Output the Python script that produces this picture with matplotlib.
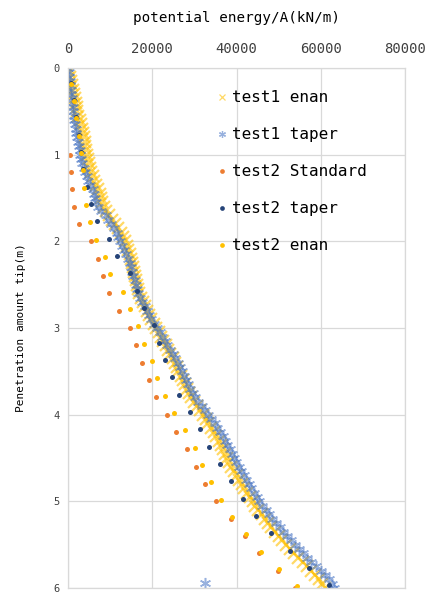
import numpy as np
import matplotlib.pyplot as plt

# test1 data: dense records, depth every 0.05 m
t1_depth = np.round(np.arange(0, 6.001, 0.05), 2)
t1_enan = [0, 200, 400, 600, 800, 1050, 1300, 1550, 1800, 2000,
           2200, 2450, 2700, 2950, 3200, 3450, 3700, 3900, 4100, 4300,
           4500, 4750, 5000, 5250, 5500, 5850, 6200, 6650, 7100, 7450,
           7800, 8100, 8500, 9100, 9800, 10500, 11200, 11900, 12500, 13000,
           13400, 13900, 14300, 14600, 14900, 15150, 15400, 15600, 15800, 16050,
           16300, 16600, 16900, 17300, 17700, 18200, 18700, 19200, 19700, 20300,
           20900, 21500, 22100, 22650, 23200, 23750, 24300, 24800, 25300, 25750,
           26200, 26700, 27200, 27700, 28200, 28750, 29300, 29950, 30600, 31300,
           32000, 32650, 33300, 33950, 34600, 35200, 35800, 36300, 36800, 37300,
           37800, 38300, 38800, 39400, 40000, 40600, 41200, 41850, 42500, 43150,
           43800, 44500, 45200, 45950, 46700, 47500, 48300, 49150, 50000, 50900,
           51800, 52750, 53700, 54700, 55700, 56750, 57800, 58750, 59700, 60400,
           61000]
t1_taper = [0, 100, 200, 350, 500, 600, 700, 800, 900, 1050,
            1200, 1350, 1500, 1650, 1800, 1950, 2100, 2300, 2500, 2700,
            2900, 3150, 3400, 3750, 4100, 4450, 4800, 5300, 5800, 6050,
            6300, 6650, 7000, 7900, 8900, 9550, 10200, 10850, 11500, 11950,
            12400, 12850, 13300, 13750, 14200, 14600, 15000, 15250, 15500, 15800,
            16100, 16400, 16700, 17150, 17600, 18150, 18700, 19250, 19800, 20450,
            21100, 21750, 22400, 23000, 23600, 24250, 24900, 25450, 26000, 26500,
            27000, 27500, 28000, 28500, 29000, 29600, 30200, 30950, 31700, 32500,
            33300, 34050, 34800, 35450, 36100, 36700, 37300, 37850, 38400, 38900,
            39400, 39950, 40500, 41100, 41700, 42300, 42900, 43500, 44100, 44750,
            45400, 46150, 46900, 47700, 48500, 49400, 50300, 51150, 52000, 52900,
            53800, 54750, 55700, 56750, 57800, 58900, 60000, 61000, 62000, 62600,
            63200]
# one odd record in test1 taper
t1_taper_odd_x = [32500]
t1_taper_odd_d = [5.94]

# test2 data: every 0.2 m
t2_std_depth = [1.0, 1.2, 1.4, 1.6, 1.8, 2.0, 2.2, 2.4, 2.6, 2.8, 3.0, 3.2, 3.4,
                3.6, 3.8, 4.0, 4.2, 4.4, 4.6, 4.8, 5.0, 5.2, 5.4, 5.6, 5.8, 6.0]
t2_std = [400, 700, 1000, 1500, 2500, 5400, 7200, 8200, 9600, 12100, 14600, 16100, 17500,
          19100, 20800, 23500, 25700, 28300, 30300, 32600, 35200, 38700, 42000, 45300, 49800, 54000]

t2_taper_depth = [0.17, 0.37, 0.57, 0.77, 0.97, 1.17, 1.37, 1.57, 1.77, 1.97,
                  2.17, 2.37, 2.57, 2.77, 2.97, 3.17, 3.37, 3.57, 3.77, 3.97,
                  4.17, 4.37, 4.57, 4.77, 4.97, 5.17, 5.37, 5.57, 5.77, 5.97]
t2_taper = [700, 1300, 1800, 2600, 3100, 3600, 4400, 5400, 6800, 9600,
            11600, 14800, 16400, 18000, 20300, 21600, 22900, 24600, 26400, 29000,
            31300, 33500, 36100, 38600, 41500, 44600, 48300, 52700, 57300, 62000]

t2_enan_depth = [0.18, 0.38, 0.58, 0.78, 0.98, 1.18, 1.38, 1.58, 1.78, 1.98,
                 2.18, 2.38, 2.58, 2.78, 2.98, 3.18, 3.38, 3.58, 3.78, 3.98,
                 4.18, 4.38, 4.58, 4.78, 4.98, 5.18, 5.38, 5.58, 5.78, 5.98]
t2_enan = [600, 1300, 1900, 2500, 3000, 3500, 3800, 4200, 5200, 6600,
           8800, 10000, 13100, 14800, 16700, 18100, 19900, 21100, 22900, 25100,
           27700, 30100, 31800, 33900, 36200, 38900, 42200, 45700, 50000, 54300]

plt.rcParams['font.family'] = ['DejaVu Sans Mono', 'DejaVu Sans']

fig = plt.figure(figsize=(4.34, 5.97), dpi=100)
ax = fig.add_axes([0.157, 0.015, 0.776, 0.871])

ax.plot(t1_enan, t1_depth, ls='none', marker='x', ms=8.5, mew=1.6,
        color='#FFC000', alpha=0.6, label='test1 enan')
ax.plot(t1_taper + t1_taper_odd_x, list(t1_depth) + t1_taper_odd_d, ls='none',
        marker=(6, 2, 0), ms=8, mew=1.1, color='#4472C4', alpha=0.55, label='test1 taper')
ax.plot(t2_std, t2_std_depth, ls='none', marker='o', ms=3.6, mew=0,
        color='#ED7D31', label='test2 Standard')
ax.plot(t2_taper, t2_taper_depth, ls='none', marker='o', ms=3.6, mew=0,
        color='#264478', label='test2 taper')
ax.plot(t2_enan, t2_enan_depth, ls='none', marker='o', ms=3.6, mew=0,
        color='#FFC000', label='test2 enan')

ax.set_xlim(0, 80000)
ax.set_ylim(6, 0)
ax.set_xticks([0, 20000, 40000, 60000, 80000])
ax.set_yticks([0, 1, 2, 3, 4, 5, 6])
ax.xaxis.tick_top()
ax.xaxis.set_label_position('top')
ax.tick_params(axis='x', length=0, labelsize=10, pad=9, colors='#404040')
ax.tick_params(axis='y', length=0, labelsize=7.5, pad=6, colors='#404040')
ax.grid(True, color='#D9D9D9', lw=0.9)
ax.set_axisbelow(True)
for s in ax.spines.values():
    s.set_color('#D9D9D9')
    s.set_linewidth(0.9)

ax.set_xlabel('potential energy/A(kN/m)', fontsize=10.3, labelpad=14)
ax.set_ylabel('Penetration amount tip(m)', fontsize=8, labelpad=20)

leg = ax.legend(loc='upper left', bbox_to_anchor=(0.40, 0.985), frameon=False,
                fontsize=11.5, labelspacing=1.38, handlelength=0.6, handletextpad=0.3)
for h, size in zip(leg.legend_handles, [5, 5, 3.4, 3.4, 3.4]):
    h.set_markersize(size)
    if size == 5:
        h.set_markeredgewidth(0.9)

fig.savefig('out.png', dpi=100)
